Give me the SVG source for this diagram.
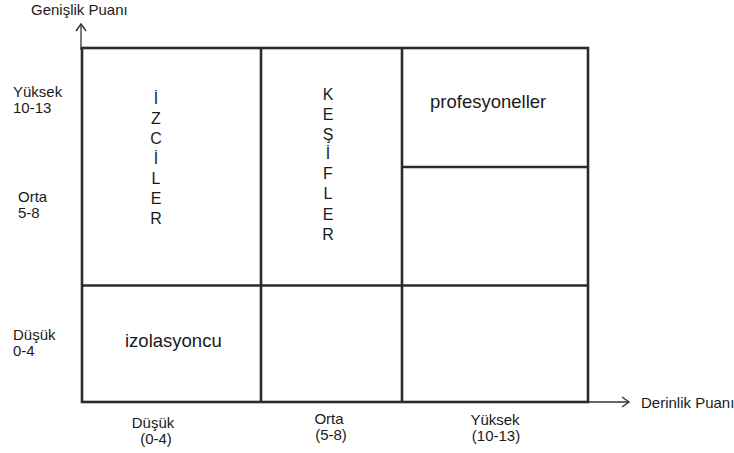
<svg xmlns="http://www.w3.org/2000/svg" width="734" height="453" viewBox="0 0 734 453">
<defs>
<style>
text{font-family:"Liberation Sans",Arial,sans-serif;fill:#1a1a1a}
.ax{font-size:15px}
.lb{font-size:18.5px}
.v{font-size:16px;text-anchor:middle}
.c{text-anchor:middle}
.grid{fill:none;stroke:#2b2b2b;stroke-width:2.6}
.axis{fill:none;stroke:#333;stroke-width:1.3}
</style>
<marker id="ah" markerWidth="12" markerHeight="12" refX="10" refY="6" orient="auto" markerUnits="userSpaceOnUse">
<path d="M3,1 L10,6 L3,11" fill="none" stroke="#333" stroke-width="1.4"/>
</marker>
</defs>
<rect width="734" height="453" fill="#fff"/>
<g id="connectors">
<line class="axis" x1="81" y1="50" x2="81" y2="24" marker-end="url(#ah)"/>
<line class="axis" x1="588" y1="402" x2="629" y2="402" marker-end="url(#ah)"/>
</g>
<g id="grid">
<rect class="grid" x="82" y="48" width="506" height="354"/>
<line class="grid" x1="261" y1="48" x2="261" y2="402"/>
<line class="grid" x1="402" y1="48" x2="402" y2="402"/>
<line class="grid" x1="82" y1="285.5" x2="588" y2="285.5"/>
<line class="grid" x1="402" y1="167" x2="588" y2="167"/>
</g>
<g id="izciler">
<text class="v" x="156" y="104">İ</text>
<text class="v" x="156" y="124">Z</text>
<text class="v" x="156" y="144">C</text>
<text class="v" x="156" y="164">İ</text>
<text class="v" x="156" y="184">L</text>
<text class="v" x="156" y="204">E</text>
<text class="v" x="156" y="224">R</text>
</g>
<g id="kesifler">
<text class="v" x="328" y="100">K</text>
<text class="v" x="328" y="120">E</text>
<text class="v" x="328" y="140">Ş</text>
<text class="v" x="328" y="159">İ</text>
<text class="v" x="328" y="179">F</text>
<text class="v" x="328" y="199">L</text>
<text class="v" x="328" y="220">E</text>
<text class="v" x="328" y="240">R</text>
</g>
<g id="profesyoneller">
<text class="lb" x="430" y="108">profesyoneller</text>
</g>
<g id="izolasyoncu">
<text class="lb" x="125" y="347">izolasyoncu</text>
</g>
<g id="y-labels">
<text class="ax" x="13" y="97">Yüksek</text>
<text class="ax" x="13" y="113">10-13</text>
<text class="ax" x="18" y="202">Orta</text>
<text class="ax" x="18" y="218">5-8</text>
<text class="ax" x="13" y="340">Düşük</text>
<text class="ax" x="13" y="356">0-4</text>
<text class="ax" x="31" y="15">Genişlik Puanı</text>
</g>
<g id="x-labels">
<text class="ax c" x="153" y="428">Düşük</text>
<text class="ax c" x="156" y="444">(0-4)</text>
<text class="ax c" x="329" y="424">Orta</text>
<text class="ax c" x="331" y="440">(5-8)</text>
<text class="ax c" x="495" y="425">Yüksek</text>
<text class="ax c" x="496" y="441">(10-13)</text>
<text class="ax" x="641" y="408">Derinlik Puanı</text>
</g>
</svg>
